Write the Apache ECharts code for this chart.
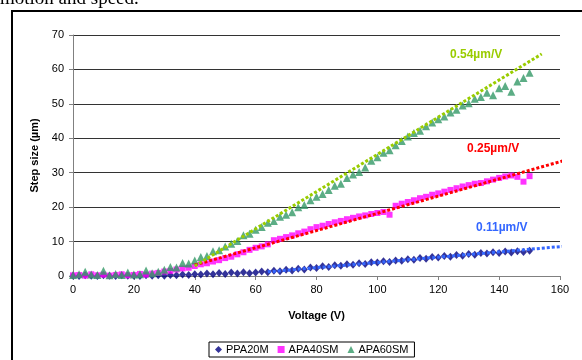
<!DOCTYPE html>
<html>
<head>
<meta charset="utf-8">
<script src="https://cdn.jsdelivr.net/npm/echarts@6/dist/echarts.min.js"></script>
<style>
    html, body { margin: 0; padding: 0; background: #fff; }
    #chart { width: 582px; height: 360px; }
</style>
</head>
<body>
<div id="chart"></div>
<script>
// voltages (V) at which each step was measured
var volts = [0, 2, 4, 6, 8, 10, 12, 14, 16, 18, 20, 22, 24, 26, 28, 30, 32, 34, 36, 38,
    40, 42, 44, 46, 48, 50, 52, 54, 56, 58, 60, 62, 64, 66, 68, 70, 72, 74, 76, 78,
    80, 82, 84, 86, 88, 90, 92, 94, 96, 98, 100, 102, 104, 106, 108, 110, 112, 114, 116, 118,
    120, 122, 124, 126, 128, 130, 132, 134, 136, 138, 140, 142, 144, 146, 148, 150];

// step size (um)
var ppa20m = [0.1, 0, 0.2, 0.1, 0, 0.2, 0.1, 0, 0.2, 0.1, 0.1, 0, 0.2, 0.1, 0.2, 0.1, 0.3, 0.2, 0.4, 0.3,
    0.5, 0.4, 0.7, 0.5, 0.9, 0.6, 1.0, 0.7, 1.1, 0.8, 1.0, 1.3, 1.1, 1.5, 1.4, 1.8, 1.6, 2.1, 1.9, 2.5,
    2.3, 2.8, 2.6, 3.1, 3.0, 3.4, 3.3, 3.7, 3.5, 4.0, 3.9, 4.3, 4.1, 4.5, 4.4, 4.9, 4.7, 5.2, 5.0, 5.5,
    5.4, 5.8, 5.6, 6.1, 5.9, 6.4, 6.2, 6.7, 6.5, 6.9, 6.7, 7.1, 6.8, 7.2, 7.0, 7.3];
var apa40sm = [0.2, 0.3, 0.1, 0.5, 0.2, 0.4, 0.1, 0.3, 0.5, 0.2, 0.3, 0.6, 0.4, 0.7, 0.9, 1.3, 1.5, 1.9, 2.2, 2.4,
    2.9, 3.4, 3.7, 4.2, 4.6, 5.2, 5.6, 6.3, 6.9, 7.6, 8.2, 8.6, 9.2, 10.4, 10.8, 11.3, 11.8, 12.4, 12.9, 13.6,
    14.2, 14.6, 15.1, 15.6, 16.0, 16.5, 16.9, 17.3, 17.6, 18.0, 18.3, 18.6, 17.8, 20.4, 21.0, 21.5, 22.0, 22.6, 23.0, 23.6,
    24.0, 24.5, 25.0, 25.5, 26.0, 26.4, 26.8, 27.0, 27.5, 28.0, 28.5, 28.9, 29.2, 28.8, 27.4, 29.0];
var apa60sm = [0.3, 0.5, 1.2, 0.4, 0.3, 1.5, 0.2, 0.6, 0.3, 1.0, 0.4, 0.5, 1.6, 0.8, 1.2, 1.8, 2.6, 2.5, 3.8, 3.6,
    4.5, 5.5, 5.8, 7.2, 7.5, 8.6, 9.4, 10.2, 11.8, 12.3, 13.4, 14.2, 15.5, 16.0, 17.2, 17.8, 18.5, 20.0, 20.6, 22.0,
    23.0, 23.8, 25.0, 26.2, 26.8, 28.5, 29.5, 30.2, 31.5, 33.5, 34.5, 35.8, 36.5, 38.0, 39.2, 40.5, 41.5, 42.2, 43.5, 44.6,
    45.5, 46.3, 47.5, 48.3, 49.5, 50.2, 51.5, 52.0, 53.2, 52.5, 54.5, 55.2, 53.5, 56.5, 57.5, 59.0];

// linear trend lines (start and end point)
var trend20 = [[64, 1.2], [161, 8.6]];
var trend40 = [[40, 3.2], [162, 33.7]];
var trend60 = [[40, 2.9], [154, 64.5]];

var xTicks = [0, 160, 20];
var yTicks = [0, 70, 10];

function pairs(ys) {
    var out = [];
    for (var i = 0; i < volts.length; i++) out.push([volts[i], ys[i]]);
    return out;
}

var font = 'Arial, "Liberation Sans", sans-serif';
var chart = echarts.init(document.getElementById('chart'));

var option = {
    animation: false,
    grid: { left: 73, right: 22, top: 35, bottom: 84 },
    xAxis: {
        type: 'value', min: xTicks[0], max: xTicks[1], interval: xTicks[2],
        name: 'Voltage (V)', nameLocation: 'middle', nameGap: 34,
        nameTextStyle: { fontFamily: font, fontSize: 11, fontWeight: 'bold', color: '#000' },
        axisLine: { lineStyle: { color: '#808080' } },
        axisTick: { length: 4, lineStyle: { color: '#808080' } },
        axisLabel: { fontFamily: font, fontSize: 11, color: '#000', margin: 8 },
        splitLine: { show: false }
    },
    yAxis: {
        type: 'value', min: yTicks[0], max: yTicks[1], interval: yTicks[2],
        name: 'Step size (µm)', nameLocation: 'middle', nameGap: 32,
        nameTextStyle: { fontFamily: font, fontSize: 11, fontWeight: 'bold', color: '#000' },
        axisLine: { show: true, lineStyle: { color: '#808080' } },
        axisTick: { show: true, length: 4, lineStyle: { color: '#808080' } },
        axisLabel: { fontFamily: font, fontSize: 11, color: '#000', margin: 9 },
        splitLine: { lineStyle: { color: '#333', width: 1 } }
    },
    legend: {
        data: ['PPA20M', 'APA40SM', 'APA60SM'],
        left: 209, top: 342,
        padding: [2, 6], itemGap: 9, itemWidth: 7, itemHeight: 7,
        borderColor: '#000', borderWidth: 1,
        textStyle: { fontFamily: font, fontSize: 11, color: '#000', padding: [0, 0, 0, -1] }
    },
    graphic: [
        { type: 'rect', shape: { x: 12, y: 11, width: 580, height: 360 }, style: { fill: 'none', stroke: '#000', lineWidth: 2 }, silent: true },
        { type: 'text', x: 0, y: 9, style: { text: 'motion and speed.', font: '19px "Liberation Serif", "DejaVu Serif", serif', fill: '#000', verticalAlign: 'bottom' } },
        { type: 'text', x: 450, y: 55, style: { text: '0.54µm/V', font: 'bold 12px ' + font, fill: '#99CC00', verticalAlign: 'middle' } },
        { type: 'text', x: 467, y: 149, style: { text: '0.25µm/V', font: 'bold 12px ' + font, fill: '#FF0000', verticalAlign: 'middle' } },
        { type: 'text', x: 476, y: 228, style: { text: '0.11µm/V', font: 'bold 12px ' + font, fill: '#3366FF', verticalAlign: 'middle' } }
    ],
    series: [
        {
            name: 'PPA20M', type: 'scatter', symbol: 'diamond', symbolSize: [7, 8],
            itemStyle: { color: '#000080' }, data: pairs(ppa20m)
        },
        {
            name: 'APA40SM', type: 'scatter', symbol: 'rect', symbolSize: 6,
            itemStyle: { color: '#FF00FF' }, data: pairs(apa40sm)
        },
        {
            name: 'APA60SM', type: 'scatter', symbol: 'triangle', symbolSize: 8,
            itemStyle: { color: '#339966' }, data: pairs(apa60sm)
        },
        {
            name: 't20', type: 'line', showSymbol: false, z: 5, clip: false,
            lineStyle: { color: '#3366FF', width: 3, type: [3, 2] }, data: trend20
        },
        {
            name: 't40', type: 'line', showSymbol: false, z: 5, clip: false,
            lineStyle: { color: '#FF0000', width: 3, type: [3, 2] }, data: trend40
        },
        {
            name: 't60', type: 'line', showSymbol: false, z: 5, clip: false,
            lineStyle: { color: '#99CC00', width: 3, type: [3, 2] }, data: trend60
        }
    ]
};
chart.setOption(option);
</script>
</body>
</html>
